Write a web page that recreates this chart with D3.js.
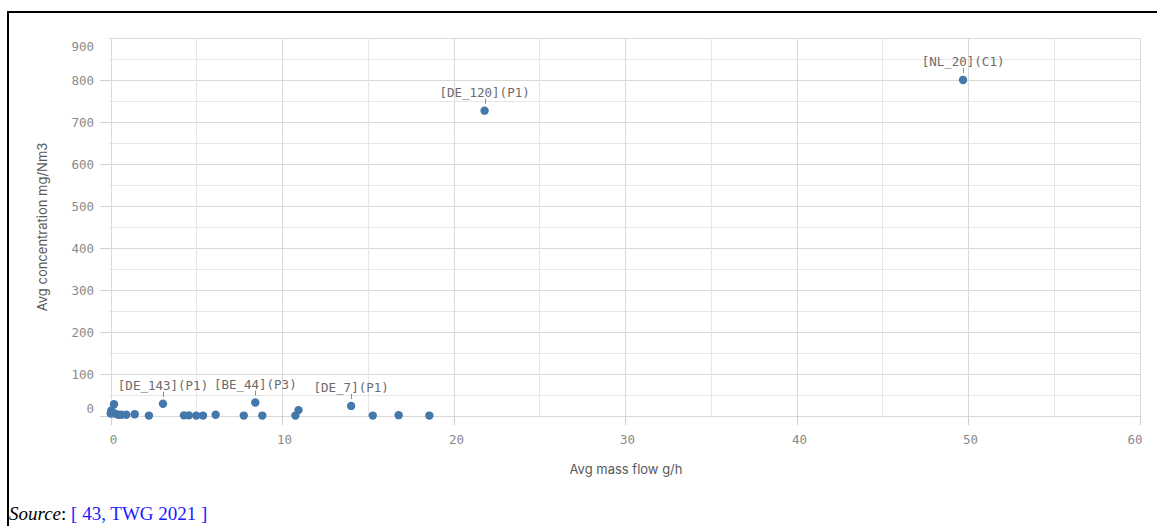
<!DOCTYPE html>
<html><head><meta charset="utf-8">
<script src="https://cdn.jsdelivr.net/npm/d3@7"></script>
<style>
html,body{margin:0;padding:0;background:#fff;}
svg{display:block;}
</style></head>
<body>
<svg id="chart" width="1157" height="526"></svg>
<script>
// ---- data ----
const massFlow = [49.7, 21.8, 3.05, 8.43, 14.02, 0.19, 0.04, 0.0, 0.23, 0.43, 0.62, 0.91, 1.4, 2.23, 4.27, 4.56, 4.99, 5.38, 6.12, 7.76, 8.84, 10.77, 10.95, 15.28, 16.79, 18.58];
const concentration = [800, 727, 29, 32, 24, 28, 13, 6, 6, 3, 3, 3, 4, 1, 1.5, 1.5, 1, 1, 3, 1, 1, 1, 14, 1, 2, 1];
const pointLabels = ["[NL_20](C1)", "[DE_120](P1)", "[DE_143](P1)", "[BE_44](P3)", "[DE_7](P1)"];
const xTicks = [0, 10, 20, 30, 40, 50, 60];
const yTicks = [0, 100, 200, 300, 400, 500, 600, 700, 800, 900];
const xTitle = "Avg mass flow g/h";
const yTitle = "Avg concentration mg/Nm3";

const svg = d3.select("#chart");
const x = d3.scaleLinear().domain([0, 60]).range([110.7, 1139.7]);
const y = d3.scaleLinear().domain([0, 900]).range([416, 38]);

const plotL = 109, plotR = 1141;

// frame lines
svg.append("line").attr("x1", 7).attr("x2", 1157).attr("y1", 12).attr("y2", 12).attr("stroke", "#000").attr("stroke-width", 2);
svg.append("line").attr("x1", 8).attr("x2", 8).attr("y1", 11).attr("y2", 526).attr("stroke", "#000").attr("stroke-width", 2);

// grid
const g = svg.append("g");
d3.range(0, 901, 50).forEach(v => {
  g.append("line").attr("x1", plotL).attr("x2", plotR).attr("y1", Math.round(y(v)) + 0.5).attr("y2", Math.round(y(v)) + 0.5)
    .attr("stroke", v % 100 === 0 ? "#d9d9d9" : "#e6e6e6").attr("stroke-width", 1);
});
d3.range(0, 61, 5).forEach(v => {
  g.append("line").attr("y1", 38).attr("y2", 416).attr("x1", Math.round(x(v)) + 0.5).attr("x2", Math.round(x(v)) + 0.5)
    .attr("stroke", v % 10 === 0 ? "#d9d9d9" : "#e6e6e6").attr("stroke-width", 1);
});

// y axis ticks and labels
yTicks.forEach(v => {
  const yy = Math.round(y(v)) + 0.5;
  if (v < 900) g.append("line").attr("x1", 100).attr("x2", plotL).attr("y1", yy).attr("y2", yy).attr("stroke", "#cfcfcf");
  let ly = yy + 4.5;
  if (v === 0) ly = yy - 4;
  if (v === 900) ly = yy + 12;
  g.append("text").attr("x", 94).attr("y", ly).attr("text-anchor", "end")
    .attr("font-family", "DejaVu Sans Mono").attr("font-size", 12.5).attr("fill", "#8a8a8a").text(v);
});
// x axis ticks and labels
xTicks.forEach(v => {
  const xx = Math.round(x(v)) + 0.5;
  g.append("line").attr("x1", xx).attr("x2", xx).attr("y1", 416).attr("y2", 425).attr("stroke", "#cfcfcf");
  let anchor = "middle", lx = xx + 2;
  if (v === 60) { anchor = "end"; lx = xx + 2; }
  g.append("text").attr("x", lx).attr("y", 444).attr("text-anchor", anchor)
    .attr("font-family", "DejaVu Sans Mono").attr("font-size", 12.5).attr("fill", "#8a8a8a").text(v);
});

// axis titles
svg.append("text").attr("x", 626).attr("y", 474).attr("text-anchor", "middle")
  .attr("font-family", "Inter").attr("font-size", 13).attr("fill", "#595959").text(xTitle);
svg.append("text").attr("transform", "translate(47,227) rotate(-90)").attr("text-anchor", "middle")
  .attr("font-family", "Inter").attr("font-size", 13).attr("fill", "#595959").text(yTitle);

// points
const pts = massFlow.map((m, i) => ({ m, c: concentration[i], label: pointLabels[i] || "" }));
svg.append("g").selectAll("circle").data(pts).join("circle")
  .attr("cx", d => x(d.m)).attr("cy", d => y(d.c)).attr("r", 4.2).attr("fill", "#4477aa");

// labels
const lab = svg.append("g").selectAll("g").data(pts.filter(d => d.label)).join("g");
lab.append("line").attr("x1", d => Math.round(x(d.m)) + 0.5).attr("x2", d => Math.round(x(d.m)) + 0.5)
  .attr("y1", d => y(d.c) - 12).attr("y2", d => y(d.c) - 7).attr("stroke", "#8a8a8a").attr("stroke-width", 1);
lab.append("text").attr("x", d => x(d.m)).attr("y", d => y(d.c) - 14).attr("text-anchor", "middle")
  .attr("font-family", "DejaVu Sans Mono").attr("font-size", 12.5).attr("fill", "#6b6b6b").text(d => d.label);

// source
const src = svg.append("text").attr("x", 9).attr("y", 520).attr("font-family", "Liberation Serif").attr("font-size", 19);
src.append("tspan").attr("font-style", "italic").attr("fill", "#000").text("Source");
src.append("tspan").attr("fill", "#000").text(": ");
src.append("tspan").attr("fill", "#1a1aff").text("[ 43, TWG 2021 ]");
</script>
</body></html>
